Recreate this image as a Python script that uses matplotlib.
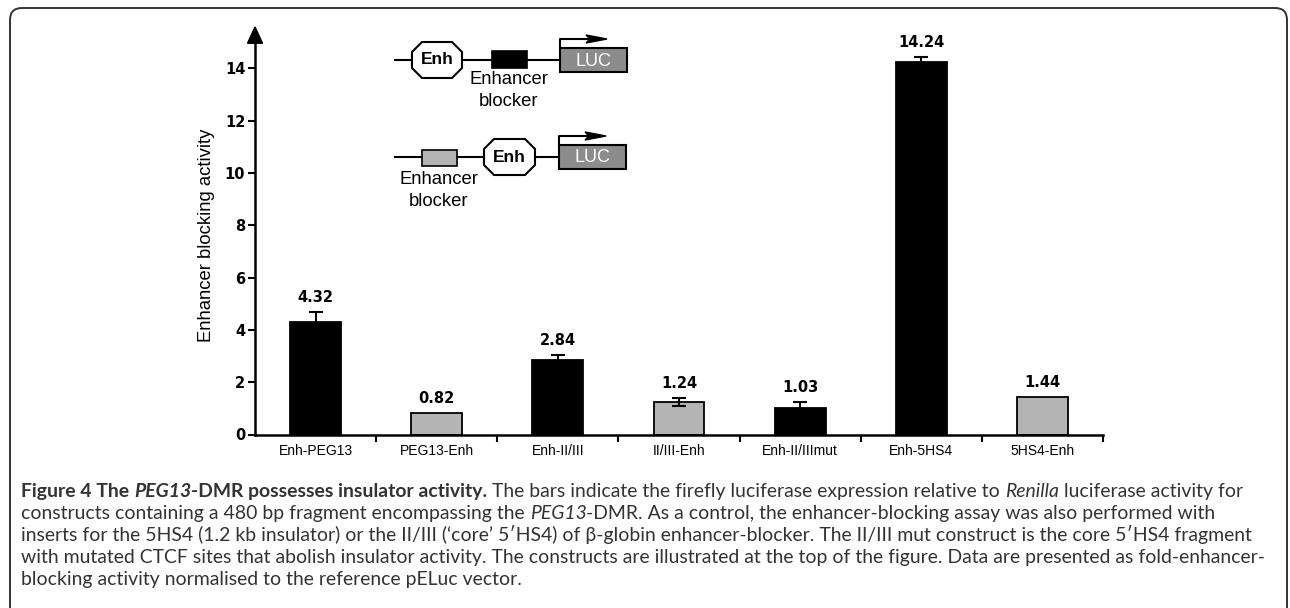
import numpy as np
import matplotlib
matplotlib.use("Agg")
import matplotlib.pyplot as plt
from matplotlib.patches import Polygon, Rectangle, FancyBboxPatch

# data
labels = ["Enh-PEG13", "PEG13-Enh", "Enh-II/III", "II/III-Enh",
          "Enh-II/IIImut", "Enh-5HS4", "5HS4-Enh"]
values = [4.32, 0.82, 2.84, 1.24, 1.03, 14.24, 1.44]
errors = [0.36, 0.0, 0.19, 0.16, 0.23, 0.19, 0.0]
colors = ["black", "#b4b4b4", "black", "#b4b4b4", "black", "black", "#b4b4b4"]
value_text = ["4.32", "0.82", "2.84", "1.24", "1.03", "14.24", "1.44"]
yticks = [0, 2, 4, 6, 8, 10, 12, 14]

W, H = 1290, 608
AX_L, AX_R = 255, 1103
Y0, YTOP = 434.5, 15.0
PX_UNIT = 26.15
ax_top = Y0 - YTOP * PX_UNIT

fig = plt.figure(figsize=(W / 100, H / 100), dpi=100)
fig.patch.set_facecolor("white")

ax = fig.add_axes([AX_L / W, (H - Y0) / H, (AX_R - AX_L) / W, (Y0 - ax_top) / H])
ax.patch.set_visible(False)
x = np.arange(len(labels))
ax.bar(x, values, width=0.42, color=colors, edgecolor="black", linewidth=1.3, zorder=2)

# only bars that have an error bar
x_arr, v_arr, e_arr = x, np.array(values), np.array(errors)
has_err = e_arr > 0
ax.errorbar(x_arr[has_err], v_arr[has_err], yerr=e_arr[has_err], fmt="none",
            ecolor="black", elinewidth=1.5, capsize=5, capthick=1.5, zorder=3)
for xi, v, e, t in zip(x, values, errors, value_text):
    ax.annotate(t, xy=(xi, v + e), xytext=(0, 5), textcoords="offset points",
                ha="center", va="bottom", fontsize=10.5, fontweight="bold",
                family="DejaVu Sans")

ax.set_xlim(-0.5, len(labels) - 0.5)
ax.set_ylim(0, YTOP)
ax.set_yticks(yticks)
ax.set_yticklabels([str(v) for v in yticks], fontsize=10.5, fontweight="bold",
                   family="DejaVu Sans")
ax.set_xticks(x)
ax.set_xticklabels(labels, fontsize=10, family="Liberation Sans")
ax.set_xticks(np.arange(len(labels)) + 0.5, minor=True)
ax.tick_params(axis="x", which="major", length=0, pad=7)
ax.tick_params(axis="x", which="minor", length=5, width=1.5, direction="out")
ax.tick_params(axis="y", length=5, width=1.5, pad=2)
for s in ["top", "right"]:
    ax.spines[s].set_visible(False)
ax.spines["left"].set_linewidth(1.8)
ax.spines["bottom"].set_linewidth(1.8)

fig.text(206 / W, 1 - 235 / H, "Enhancer blocking activity", rotation=90,
         ha="center", va="center", fontsize=13.3, family="Liberation Sans")

# overlay in pixel coordinates for frame, axis arrow and construct sketch
ov = fig.add_axes([0, 0, 1, 1])
ov.set_xlim(0, W)
ov.set_ylim(H, 0)
ov.set_axis_off()
ov.patch.set_visible(False)

ov.add_patch(FancyBboxPatch((10, 8), 1277, 640, boxstyle="round,pad=0,rounding_size=12",
                            fill=False, edgecolor="#333333", linewidth=1.4))
ov.add_patch(Polygon([(AX_L, 27), (AX_L - 7.5, ax_top + 1), (AX_L + 7.5, ax_top + 1)],
                     closed=True, color="black"))


def octagon(cx, cy, w, h, c):
    pts = [(cx - w / 2 + c, cy - h / 2), (cx + w / 2 - c, cy - h / 2),
           (cx + w / 2, cy - h / 2 + c), (cx + w / 2, cy + h / 2 - c),
           (cx + w / 2 - c, cy + h / 2), (cx - w / 2 + c, cy + h / 2),
           (cx - w / 2, cy + h / 2 - c), (cx - w / 2, cy - h / 2 + c)]
    ov.add_patch(Polygon(pts, closed=True, facecolor="white", edgecolor="black",
                         linewidth=1.5, zorder=3))
    ov.text(cx, cy, "Enh", ha="center", va="center", fontsize=12.5,
            fontweight="bold", family="Liberation Sans", zorder=4)


def luc(x0, cy):
    ov.add_patch(Rectangle((x0, cy - 12), 67, 24, facecolor="#8c8c8c",
                           edgecolor="black", linewidth=1.5, zorder=3))
    ov.text(x0 + 33.5, cy + 1, "LUC", ha="center", va="center", fontsize=13,
            color="white", family="Liberation Sans", zorder=4)
    ya = cy - 21
    ov.plot([x0, x0, x0 + 30], [cy - 12, ya, ya], color="black", lw=1.5, zorder=4)
    ov.add_patch(Polygon([(x0 + 26, ya - 4), (x0 + 47, ya), (x0 + 26, ya + 4),
                          (x0 + 30, ya)], closed=True, color="black", zorder=4))


# construct 1: Enh - blocker - LUC
ov.plot([395, 560], [60, 60], color="black", lw=1.5, zorder=2)
octagon(437, 60, 50, 36, 10)
ov.add_patch(Rectangle((492, 51), 35, 17, facecolor="black", edgecolor="black",
                       linewidth=1.2, zorder=3))
luc(560, 60)
ov.text(509, 80, "Enhancer", ha="center", va="center", fontsize=13.3,
        family="Liberation Sans")
ov.text(509, 102, "blocker", ha="center", va="center", fontsize=13.3,
        family="Liberation Sans")

# construct 2: blocker - Enh - LUC
ov.plot([395, 558], [157, 157], color="black", lw=1.5, zorder=2)
ov.add_patch(Rectangle((422, 150), 35, 16, facecolor="#b4b4b4", edgecolor="black",
                       linewidth=1.2, zorder=3))
octagon(509.5, 157, 51, 36, 10)
luc(559, 157)
ov.text(439, 180, "Enhancer", ha="center", va="center", fontsize=13.3,
        family="Liberation Sans")
ov.text(439, 201, "blocker", ha="center", va="center", fontsize=13.3,
        family="Liberation Sans")

# caption
cap_lines = [
    [("Figure 4 The ", "bold", "normal"), ("PEG13", "bold", "italic"),
     ("-DMR possesses insulator activity.", "bold", "normal"),
     (" The bars indicate the firefly luciferase expression relative to ", "normal", "normal"),
     ("Renilla", "normal", "italic"), (" luciferase activity for", "normal", "normal")],
    [("constructs containing a 480 bp fragment encompassing the ", "normal", "normal"),
     ("PEG13", "normal", "italic"),
     ("-DMR. As a control, the enhancer-blocking assay was also performed with", "normal", "normal")],
    [("inserts for the 5HS4 (1.2 kb insulator) or the II/III (\u2018core\u2019 5\u2032HS4) of "
      "\u03b2-globin enhancer-blocker. The II/III mut construct is the core 5\u2032HS4 fragment",
      "normal", "normal")],
    [("with mutated CTCF sites that abolish insulator activity. The constructs are "
      "illustrated at the top of the figure. Data are presented as fold-enhancer-",
      "normal", "normal")],
    [("blocking activity normalised to the reference pELuc vector.", "normal", "normal")],
]
cap_font = ["Lato", "DejaVu Sans"]
renderer = fig.canvas.get_renderer()


def text_width(s, weight, style, size):
    t1 = fig.text(0, 0, "|" + s + "|", fontsize=size, family=cap_font,
                  fontweight=weight, fontstyle=style)
    t2 = fig.text(0, 0, "||", fontsize=size, family=cap_font,
                  fontweight=weight, fontstyle=style)
    w = t1.get_window_extent(renderer).width - t2.get_window_extent(renderer).width
    t1.remove()
    t2.remove()
    return w


ref_w = sum(text_width(s, wt, st, 10) for s, wt, st in cap_lines[3])
cap_size = 10 * 1249 / ref_w

for i, line in enumerate(cap_lines):
    xp = 21
    yb = 497 + 22 * i
    for s, wt, st in line:
        fig.text(xp / W, 1 - yb / H, s, fontsize=cap_size, family=cap_font,
                 fontweight=wt, fontstyle=st, color="#333333", va="baseline", ha="left")
        xp += text_width(s, wt, st, cap_size)

fig.savefig("out.png", dpi=100, facecolor="white")
